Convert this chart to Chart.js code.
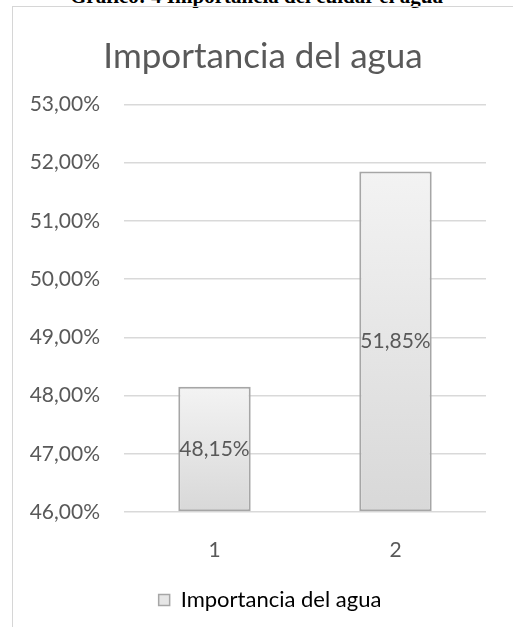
<!DOCTYPE html>
<html>
<head>
<meta charset="utf-8">
<script src="https://cdn.jsdelivr.net/npm/chart.js@4.4.0/dist/chart.umd.min.js"></script>
<style>
  html, body { margin: 0; padding: 0; background: #fff; overflow: hidden; }
  body { width: 513px; height: 627px; position: relative; }
  #heading {
    position: absolute; left: 0; top: -14px; width: 513px; text-align: center;
    font: bold 21px/21px "Liberation Serif", "Times New Roman", serif; color: #000;
    white-space: nowrap;
  }
  #frame {
    position: absolute; left: 12px; top: 6px; width: 600px; height: 700px;
    border: 1.5px solid #d6d6d6;
  }
  #wrap { position: absolute; left: 0; top: 0; width: 513px; height: 627px; }
</style>
</head>
<body>
<div id="heading">Gráfico: 4 Importancia del cuidar el agua</div>
<div id="frame"></div>
<div id="wrap"><canvas id="chart"></canvas></div>
<script>
const chartTitle = "Importancia del agua";
const categories = ["1", "2"];
const values = [48.15, 51.85];
const yMin = 46;
const yMax = 53;

const textColor = "#595959";
const fontFamily = "Lato, 'Open Sans', sans-serif";

function formatPct(v) {
  return v.toFixed(2).replace(".", ",") + "%";
}

function barFill(context) {
  const chart = context.chart;
  if (!chart.chartArea || context.dataIndex === undefined) return "#e6e6e6";
  const yScale = chart.scales.y;
  const top = yScale.getPixelForValue(context.raw);
  const bottom = yScale.getPixelForValue(yMin);
  const grad = chart.ctx.createLinearGradient(0, top, 0, bottom);
  grad.addColorStop(0, "#f3f3f3");
  grad.addColorStop(1, "#d8d8d8");
  return grad;
}

// value labels in the middle of each bar
const barLabels = {
  id: "barLabels",
  afterDatasetsDraw(chart) {
    const c = chart.ctx;
    const meta = chart.getDatasetMeta(0);
    c.save();
    c.font = "21px " + fontFamily;
    c.fillStyle = textColor;
    c.textAlign = "center";
    c.textBaseline = "middle";
    meta.data.forEach((bar, i) => {
      c.fillText(formatPct(values[i]), bar.x, (bar.y + bar.base) / 2);
    });
    c.restore();
  },
};

// shift full-width boxes right a little, like the off-centre original
const boxShift = {
  id: "boxShift",
  afterLayout(chart) {
    chart.legend.left += 17;
    chart.legend.right += 17;
    chart.titleBlock.left += 10;
    chart.titleBlock.right += 10;
  },
};

const ctx = document.getElementById("chart").getContext("2d");

new Chart(ctx, {
  type: "bar",
  data: {
    labels: categories,
    datasets: [
      {
        label: chartTitle,
        data: values,
        base: yMin,
        backgroundColor: barFill,
        borderColor: "#a6a6a6",
        borderWidth: 2,
        borderSkipped: false,
        categoryPercentage: 1,
        barPercentage: 0.4,
      },
    ],
  },
  options: {
    responsive: true,
    maintainAspectRatio: false,
    animation: false,
    layout: { padding: { left: 20, right: 27, top: 20, bottom: 6 } },
    plugins: {
      title: {
        display: true,
        text: chartTitle,
        color: textColor,
        font: { family: fontFamily, size: 35, weight: "normal" },
        padding: { top: 16, bottom: 26.5 },
      },
      legend: {
        position: "bottom",
        labels: {
          color: textColor,
          font: { family: fontFamily, size: 22 },
          boxWidth: 11,
          boxHeight: 11,
          generateLabels() {
            return [
              {
                text: chartTitle,
                fillStyle: "#e6e6e6",
                strokeStyle: "#a6a6a6",
                lineWidth: 1.5,
                datasetIndex: 0,
              },
            ];
          },
        },
      },
      tooltip: { enabled: false },
    },
    scales: {
      x: {
        grid: { display: false },
        border: { display: false },
        ticks: {
          color: textColor,
          font: { family: fontFamily, size: 21 },
          padding: 18,
        },
        afterFit(scale) { scale.height = 67; },
      },
      y: {
        min: yMin,
        max: yMax,
        grid: { color: "#d9d9d9", lineWidth: 1.5, drawTicks: false },
        border: { display: false },
        ticks: {
          stepSize: 1,
          color: textColor,
          font: { family: fontFamily, size: 21 },
          padding: 24,
          callback: (v) => formatPct(v),
        },
        afterFit(scale) { scale.width = 104; },
      },
    },
  },
  plugins: [barLabels, boxShift],
});
</script>
</body>
</html>
